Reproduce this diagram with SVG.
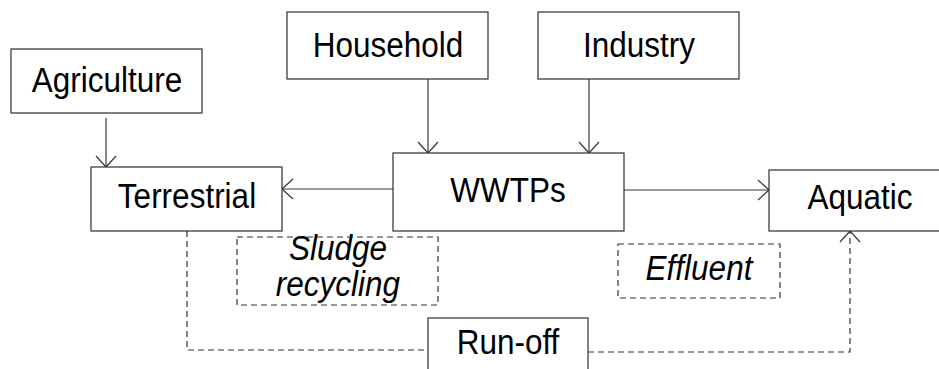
<svg xmlns="http://www.w3.org/2000/svg" width="939" height="369" viewBox="0 0 939 369">
  <style>
    .box { fill: #ffffff; stroke: #2e2e2e; stroke-width: 1.2; }
    .dbox { fill: none; stroke: #333333; stroke-width: 1.2; stroke-dasharray: 6 4; }
    .lbl { font-family: "Liberation Sans", Arial, sans-serif; font-size: 31.5px; fill: #000000; text-anchor: middle; }
    .it { font-style: italic; }
    .flow { fill: none; stroke: #383838; stroke-width: 1.2; }
    .dash { stroke-dasharray: 6 4; stroke: #333333; }
  </style>
  <defs>
    <marker id="open" viewBox="-13 -12 15 24" refX="0" refY="0" markerWidth="15" markerHeight="24" markerUnits="userSpaceOnUse" orient="auto">
      <path d="M-11,-10 L0,0 L-11,10" fill="none" stroke="#383838" stroke-width="1.2"/>
    </marker>
  </defs>

  <!-- connectors -->
  <g id="connectors">
    <line class="flow" x1="106" y1="118" x2="106" y2="167" marker-end="url(#open)"/>
    <line class="flow" x1="428" y1="79" x2="428" y2="153" marker-end="url(#open)"/>
    <line class="flow" x1="589" y1="79" x2="589" y2="153" marker-end="url(#open)"/>
    <line class="flow" x1="393" y1="189" x2="282" y2="189" marker-end="url(#open)"/>
    <line class="flow" x1="624" y1="190" x2="769" y2="190" marker-end="url(#open)"/>
    <polyline class="flow dash" points="187,231 187,350 428,350"/>
    <polyline class="flow dash" points="588,352 850,352 850,231" marker-end="url(#open)"/>
  </g>

  <!-- labels use a slightly tall glyph shape: scale(1,1.1) -->
  <g id="agriculture">
    <rect class="box" x="11" y="49" width="191" height="64"/>
    <text class="lbl" transform="translate(107,92) scale(1,1.1)">Agriculture</text>
  </g>
  <g id="household">
    <rect class="box" x="287" y="12" width="201" height="67"/>
    <text class="lbl" transform="translate(388,57) scale(1,1.1)">Household</text>
  </g>
  <g id="industry">
    <rect class="box" x="538" y="12" width="201" height="67"/>
    <text class="lbl" transform="translate(639,57) scale(1,1.1)">Industry</text>
  </g>
  <g id="wwtps">
    <rect class="box" x="393" y="153" width="231" height="78"/>
    <text class="lbl" transform="translate(508,202) scale(1,1.1)">WWTPs</text>
  </g>
  <g id="terrestrial">
    <rect class="box" x="91" y="167" width="191" height="64"/>
    <text class="lbl" transform="translate(187,208) scale(1,1.1)">Terrestrial</text>
  </g>
  <g id="aquatic">
    <rect class="box" x="769" y="170" width="182" height="61"/>
    <text class="lbl" transform="translate(860,209) scale(1,1.1)">Aquatic</text>
  </g>
  <g id="sludge-recycling">
    <rect class="dbox" x="237" y="237" width="201" height="68"/>
    <text class="lbl it" transform="translate(338,260) scale(1,1.1)">Sludge</text>
    <text class="lbl it" transform="translate(338,296) scale(1,1.1)">recycling</text>
  </g>
  <g id="effluent">
    <rect class="dbox" x="618" y="244" width="162" height="54"/>
    <text class="lbl it" transform="translate(699,280) scale(1,1.1)">Effluent</text>
  </g>
  <g id="run-off">
    <rect class="box" x="428" y="318" width="160" height="60"/>
    <text class="lbl" transform="translate(508,354) scale(1,1.1)">Run-off</text>
  </g>
</svg>
